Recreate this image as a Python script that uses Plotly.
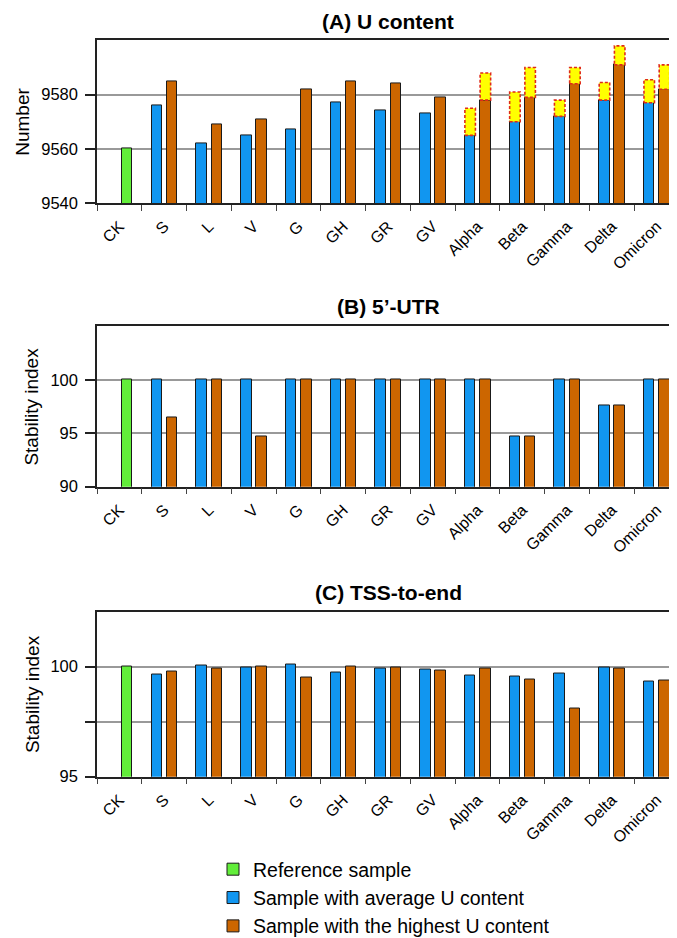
import plotly.graph_objects as go

categories = ["CK", "S", "L", "V", "G", "GH", "GR", "GV", "Alpha", "Beta", "Gamma", "Delta", "Omicron"]

# (A) U content
A_ref = [9560]
A_avg = [None, 9576, 9562, 9565, 9567, 9577, 9574, 9573, 9565, 9570, 9572, 9578, 9577]
A_high = [None, 9585, 9569, 9571, 9582, 9585, 9584, 9579, 9578, 9579, 9584, 9591, 9582]
# upper ends of the yellow (dashed) ranges, for Alpha .. Omicron
A_range_cats = ["Alpha", "Beta", "Gamma", "Delta", "Omicron"]
A_avg_upper = [9575, 9581, 9578, 9584.5, 9585.5]
A_high_upper = [9588, 9590, 9590, 9598, 9591]

# (B) 5'-UTR stability index
B_ref = [100]
B_avg = [None, 100, 100, 100, 100, 100, 100, 100, 100, 94.7, 100, 97.6, 100]
B_high = [None, 96.5, 100, 94.7, 100, 100, 100, 100, 100, 94.7, 100, 97.6, 100]

# (C) TSS-to-end stability index
C_ref = [100]
C_avg = [None, 99.66, 100.03, 99.97, 100.09, 99.75, 99.93, 99.85, 99.61, 99.57, 99.67, 99.96, 99.33]
C_high = [None, 99.76, 99.9, 99.99, 99.52, 99.98, 99.95, 99.84, 99.9, 99.42, 98.1, 99.9, 99.36]

legend_names = ["Reference sample", "Sample with average U content", "Sample with the highest U content"]

GREEN = "#62ee3a"
BLUE = "#1196f0"
ORANGE = "#cc6600"
EDGE = "#1a1a1a"
FONT = "Liberation Sans, Arial, sans-serif"

W, H = 677, 938
L, R = 89, 6
BAR_W = 0.235
OFF_AVG = -0.165
OFF_HIGH = 0.175

idx = list(range(len(categories)))

fig = go.Figure()

panels = [
    ("", "y", A_ref, A_avg, A_high),
    ("2", "y2", B_ref, B_avg, B_high),
    ("3", "y3", C_ref, C_avg, C_high),
]

for k, (sfx, yname, ref, avg, high) in enumerate(panels):
    xname = "x" + sfx
    show = k == 0
    fig.add_trace(go.Bar(
        x=[i + OFF_HIGH for i in idx[:len(ref)]], y=ref, width=BAR_W,
        marker=dict(color=GREEN, line=dict(color=EDGE, width=1)),
        name=legend_names[0], legendgroup="g0", showlegend=show,
        xaxis=xname, yaxis=yname))
    fig.add_trace(go.Bar(
        x=[i + OFF_AVG for i in idx], y=avg, width=BAR_W,
        marker=dict(color=BLUE, line=dict(color=EDGE, width=1)),
        name=legend_names[1], legendgroup="g1", showlegend=show,
        xaxis=xname, yaxis=yname))
    fig.add_trace(go.Bar(
        x=[i + OFF_HIGH for i in idx], y=high, width=BAR_W,
        marker=dict(color=ORANGE, line=dict(color=EDGE, width=1)),
        name=legend_names[2], legendgroup="g2", showlegend=show,
        xaxis=xname, yaxis=yname))

# yellow dashed range boxes in panel A
bx, by = [], []
for c, up_a, up_h in zip(A_range_cats, A_avg_upper, A_high_upper):
    i = categories.index(c)
    for off, lo, hi in ((OFF_AVG, A_avg[i], up_a), (OFF_HIGH, A_high[i], up_h)):
        x0, x1 = i + off - BAR_W / 2, i + off + BAR_W / 2
        bx += [x0, x1, x1, x0, x0, None]
        by += [lo, lo, hi, hi, lo, None]
fig.add_trace(go.Scatter(
    x=bx, y=by, mode="lines", fill="toself", fillcolor="#ffff00",
    line=dict(color="#e02a1a", width=1.6, dash="3px,2px"),
    showlegend=False, hoverinfo="skip", xaxis="x", yaxis="y"))

def ydom(top, bottom):
    return [1 - bottom / H, 1 - top / H]

domains = [ydom(33, 198.5), ydom(324, 487), ydom(614, 782)]
yranges = [[9540, 9600], [90, 105], [95, 102.5]]
ytickvals = [[9540, 9560, 9580], [90, 95, 100], [95, 97.5, 100]]
yticktext = [["9540", "9560", "9580"], ["90", "95", "100"], ["95", "", "100"]]

layout = dict(
    width=W, height=H,
    margin=dict(l=L, r=R, t=0, b=0),
    paper_bgcolor="white", plot_bgcolor="white",
    barmode="overlay", bargap=0,
    font=dict(family=FONT, color="black"),
    showlegend=True,
    legend=dict(
        x=(205 - L) / (W - L - R), y=1 - 857 / H, xanchor="left", yanchor="top",
        font=dict(size=19.5, family=FONT, color="black"),
        traceorder="normal", tracegroupgap=3, itemwidth=30,
        bgcolor="rgba(0,0,0,0)"),
)

for k, sfx in enumerate(["", "2", "3"]):
    layout["xaxis" + sfx] = dict(
        domain=[0, 1], anchor="y" + sfx, range=[-0.5, len(categories) - 0.5],
        tickmode="array", tickvals=idx, ticktext=categories, tickangle=-45,
        ticks="", tickfont=dict(size=16, family=FONT, color="black"),
        ticklabelstandoff=6,
        showgrid=False, zeroline=False,
        showline=True, linecolor="#222", linewidth=1.5, mirror=True,
        minor=dict(tickmode="array", tickvals=[i - 0.5 for i in idx] + [len(categories) - 0.5],
                   ticks="outside", ticklen=6, tickcolor="#444", tickwidth=1.2, showgrid=False),
        fixedrange=True)
    layout["yaxis" + sfx] = dict(
        domain=domains[k], anchor="x" + sfx, range=yranges[k],
        tickmode="array", tickvals=ytickvals[k], ticktext=yticktext[k],
        ticks="outside", ticklen=10, tickcolor="#222", tickwidth=1.5,
        tickfont=dict(size=16.5, family=FONT, color="black"),
        ticklabelstandoff=4,
        showgrid=True, gridcolor="#999999", gridwidth=1.5, zeroline=False,
        showline=True, linecolor="#222", linewidth=1.5, mirror=True,
        fixedrange=True)

fig.update_layout(**layout)

titles = [("(A) U content", 14), ("(B) 5\u2019-UTR", 304), ("(C) TSS-to-end", 595)]
for text, ypx in titles:
    fig.add_annotation(text="<b>" + text + "</b>", xref="paper", yref="paper",
                       x=0.5, y=1 - ypx / H, xanchor="center", yanchor="middle",
                       showarrow=False, font=dict(size=21, family=FONT, color="black"))

ytitles = [("Number", 15, (33 + 198.5) / 2), ("Stability index", 24, (324 + 487) / 2),
           ("Stability index", 24, (614 + 782) / 2)]
for text, xpx, ypx in ytitles:
    fig.add_annotation(text=text, xref="paper", yref="paper",
                       x=(xpx - L) / (W - L - R), y=1 - ypx / H, xanchor="center", yanchor="middle",
                       textangle=-90, showarrow=False, font=dict(size=19, family=FONT, color="black"))

fig.write_html("out.html")
